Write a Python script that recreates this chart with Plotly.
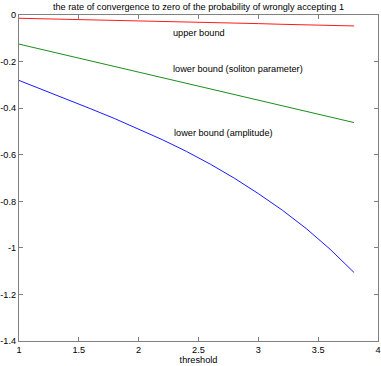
import plotly.graph_objects as go

x_vals = [1.0, 1.2, 1.4, 1.6, 1.8, 2.0, 2.2, 2.4, 2.6, 2.8, 3.0, 3.2, 3.4, 3.6, 3.8]
upper_bound = [-0.014, -0.016, -0.019, -0.021, -0.023, -0.026, -0.028, -0.030, -0.033, -0.035, -0.037, -0.040, -0.042, -0.044, -0.047]
lower_soliton = [-0.125, -0.149, -0.173, -0.197, -0.221, -0.245, -0.269, -0.293, -0.317, -0.341, -0.365, -0.389, -0.413, -0.438, -0.462]
lower_amplitude = [-0.281, -0.321, -0.362, -0.403, -0.445, -0.489, -0.536, -0.586, -0.641, -0.701, -0.767, -0.838, -0.917, -1.006, -1.106]

x_ticks = [1, 1.5, 2, 2.5, 3, 3.5, 4]
x_tick_labels = ["1", "1.5", "2", "2.5", "3", "3.5", "4"]
y_ticks = [0, -0.2, -0.4, -0.6, -0.8, -1, -1.2, -1.4]
y_tick_labels = ["0", "-0.2", "-0.4", "-0.6", "-0.8", "-1", "-1.2", "-1.4"]

labels = ["upper bound", "lower bound (soliton parameter)", "lower bound (amplitude)"]
label_x = [2.27, 2.27, 2.28]
label_y = [-0.078, -0.233, -0.508]

font = "Liberation Sans, Arial, sans-serif"
fsize = 9.2

fig = go.Figure()
fig.add_trace(go.Scatter(x=x_vals, y=upper_bound, mode="lines", line=dict(color="#ff0000", width=0.9)))
fig.add_trace(go.Scatter(x=x_vals, y=lower_soliton, mode="lines", line=dict(color="#008000", width=0.9)))
fig.add_trace(go.Scatter(x=x_vals, y=lower_amplitude, mode="lines", line=dict(color="#0000ff", width=0.9)))

for t, xx, yy in zip(labels, label_x, label_y):
    fig.add_annotation(x=xx, y=yy, text=t, showarrow=False, xanchor="left", yanchor="middle",
                       font=dict(family=font, size=fsize, color="black"))

axis_common = dict(showgrid=False, zeroline=False, showline=True, linecolor="#808080", linewidth=1,
                   mirror="ticks", ticks="inside", ticklen=4, tickcolor="#808080",
                   tickfont=dict(family=font, size=fsize, color="black"), automargin=False)

fig.update_layout(
    width=381, height=366,
    margin=dict(l=19, r=3, t=15, b=25),
    paper_bgcolor="white", plot_bgcolor="white",
    showlegend=False,
    title=dict(text="the rate of convergence to zero of the probability of wrongly accepting 1",
               xref="paper", x=0.5, xanchor="center", y=0.99, yanchor="top",
               font=dict(family=font, size=fsize, color="black")),
    xaxis=dict(range=[1, 4], tickvals=x_ticks, ticktext=x_tick_labels,
               title=dict(text="threshold", font=dict(family=font, size=fsize, color="black"), standoff=1),
               **axis_common),
    yaxis=dict(range=[-1.4, 0], tickvals=y_ticks, ticktext=y_tick_labels, **axis_common),
)

fig.write_html("out.html", config={"displayModeBar": False},
               post_script="document.body.style.margin='0';document.body.style.overflow='hidden';")
